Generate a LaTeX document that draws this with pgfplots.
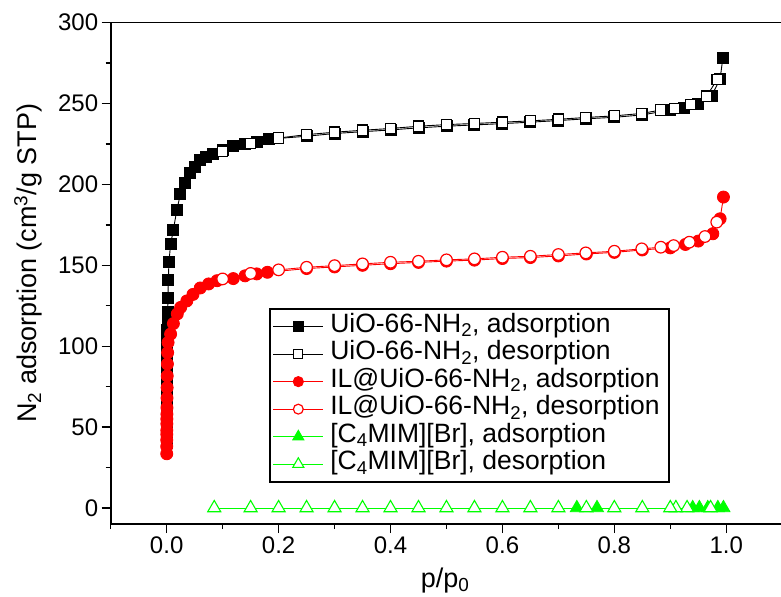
\documentclass[border=0pt]{standalone}
\usepackage{pgfplots}
\pgfplotsset{compat=1.18}
\usepackage{fontspec}
\setmainfont{Liberation Sans}
\begin{document}
\begin{tikzpicture}
\begin{axis}[name=ax, scale only axis, width=671.3pt, height=501.3pt,
  xmin=-0.1, xmax=1.1, ymin=-10, ymax=300,
  xtick={0,0.2,0.4,0.6,0.8,1.0}, minor xtick={-0.1,0.1,0.3,0.5,0.7,0.9},
  ytick={0,50,100,150,200,250,300}, minor ytick={25,75,125,175,225,275},
  tick align=outside, xtick pos=bottom, ytick pos=left,
  major tick length=9pt, minor tick length=5pt,
  axis line style={line width=1.6pt},
  every tick/.style={line width=1.4pt, black},
  /pgf/number format/assume math mode=true,
  tick label style={font=\fontsize{24}{28}\selectfont},
  xticklabel style={/pgf/number format/.cd, fixed, fixed zerofill, precision=1},
  yticklabel style={/pgf/number format/.cd, fixed, precision=0},
  xlabel={p/p\textsubscript{0}},
  ylabel={N\textsubscript{2} adsorption (cm\textsuperscript{3}/g STP)},
  every axis x label/.style={at={(axis description cs:0.498,0)}, anchor=center, yshift=-56pt, font=\fontsize{27}{30}\selectfont},
  every axis y label/.style={at={(axis description cs:-0.1230,0.52)}, rotate=90, anchor=center, font=\fontsize{27}{30}\selectfont},
  legend style={at={(0.2358,0.4309)}, anchor=north west, draw=black, line width=1.6pt,
    font=\fontsize{26.5}{30}\selectfont, inner xsep=3pt, inner ysep=4pt,
    nodes={inner xsep=6.5pt, inner ysep=2.5pt, text height=17pt, text depth=5.5pt}},
  legend cell align=left,
  legend image code/.code={\draw[mark repeat=2,mark phase=2] plot coordinates {(0pt,0pt) (25pt,0pt) (50pt,0pt)};},
  legend image post style={/tikz/every mark/.append style={scale=0.85}},
  clip=false,
]
% UiO-66-NH2 adsorption
\addplot[color=black, line width=0.9pt, mark=square*, mark size=5.5pt, mark options={solid}] coordinates {
(0.0001,40) (0.0001,45) (0.0002,50) (0.0002,55) (0.0003,60) (0.0003,66) (0.0004,72) (0.0005,78) (0.0006,85) (0.0007,92) (0.0008,99) (0.001,105) (0.0012,110) (0.0015,116) (0.0018,121) (0.0022,130) (0.003,141) (0.004,152) (0.007,163) (0.012,172) (0.018,184) (0.0245,194) (0.033,201) (0.042,207) (0.05,211) (0.06,215) (0.07,217) (0.083,219) (0.1,221.5) (0.119,223.5) (0.14,225) (0.161,226) (0.182,228) (0.25,229.8) (0.3,231.5) (0.35,232.6) (0.4,233.7) (0.45,235) (0.5,236) (0.55,236.8) (0.6,237.6) (0.65,238.5) (0.7,239.5) (0.75,240.6) (0.8,241.5) (0.85,243) (0.9,246) (0.924,247.6) (0.95,249.7) (0.974,255) (0.989,265.2) (0.994,278.4)
};
\addlegendentry{UiO-66-NH\textsubscript{2}, adsorption}
% UiO-66-NH2 desorption
\addplot[color=black, line width=0.9pt, mark=square*, mark size=5.2pt, mark options={solid, fill=white, line width=1.2pt}] coordinates {
(0.984,265) (0.965,254.6) (0.936,249.5) (0.908,247) (0.883,246) (0.849,243.9) (0.8,242.4) (0.749,241.4) (0.7,240.3) (0.65,239.3) (0.6,238.5) (0.55,237.7) (0.5,237) (0.45,236) (0.4,234.6) (0.35,233.5) (0.3,232.3) (0.25,230.8) (0.2,228.7) (0.15,225.3) (0.1,220.5)
};
\addlegendentry{UiO-66-NH\textsubscript{2}, desorption}
% IL@UiO-66-NH2 adsorption
\addplot[color=red, line width=0.9pt, mark=*, mark size=6pt, mark options={solid}] coordinates {
(0.0001,33.5) (0.0001,38) (0.0001,42) (0.0002,45.5) (0.0002,48) (0.0003,52) (0.0003,55) (0.0004,58) (0.0005,62) (0.0006,68) (0.0008,74.4) (0.001,81.6) (0.0013,89) (0.0017,96) (0.0025,102.3) (0.007,107.5) (0.012,114) (0.019,120) (0.025,124) (0.036,128) (0.047,132) (0.06,136) (0.075,138.5) (0.09,140.5) (0.119,141.8) (0.14,143.5) (0.161,144.7) (0.18,145.7) (0.25,148) (0.3,149) (0.35,150) (0.4,151) (0.45,151.8) (0.5,152.6) (0.55,153.2) (0.6,154.2) (0.65,154.8) (0.7,155.8) (0.75,157) (0.8,158) (0.85,159.5) (0.9,160.8) (0.927,162.9) (0.95,165) (0.976,169.5) (0.989,178.8) (0.995,192.2)
};
\addlegendentry{IL@UiO-66-NH\textsubscript{2}, adsorption}
% IL@UiO-66-NH2 desorption
\addplot[color=red, line width=0.9pt, mark=*, mark size=5.8pt, mark options={solid, fill=white, line width=1.2pt}] coordinates {
(0.983,176.7) (0.962,167.8) (0.934,164.3) (0.906,162.2) (0.883,161.2) (0.849,160.2) (0.8,158.7) (0.749,157.7) (0.7,156.7) (0.65,155.6) (0.6,155) (0.55,154) (0.5,153.4) (0.45,152.5) (0.4,151.9) (0.35,150.9) (0.3,149.8) (0.25,148.8) (0.2,147.2) (0.15,145) (0.1,141.6)
};
\addlegendentry{IL@UiO-66-NH\textsubscript{2}, desorption}
% [C4MIM][Br] adsorption
\addplot[color=green, line width=0.9pt, mark=triangle*, mark size=7.5pt, mark options={solid}] coordinates {
(0.733,0) (0.769,0) (0.94,0) (0.952,0) (0.967,0) (0.985,0) (0.995,0)
};
\addlegendentry{[C\textsubscript{4}MIM][Br], adsorption}
% [C4MIM][Br] desorption
\addplot[color=green, line width=0.9pt, mark=triangle*, mark size=7.5pt, mark options={solid, fill=white, line width=1.1pt}] coordinates {
(0.972,0) (0.93,0) (0.91,0) (0.9,0) (0.85,0) (0.8,0) (0.75,0) (0.7,0) (0.65,0) (0.6,0) (0.55,0) (0.5,0) (0.45,0) (0.4,0) (0.35,0) (0.3,0) (0.25,0) (0.2,0) (0.15,0) (0.085,0)
};
\addlegendentry{[C\textsubscript{4}MIM][Br], desorption}
\end{axis}
\pgfresetboundingbox
\path[use as bounding box] ([shift={(-110.7pt,-72pt)}]ax.south west) rectangle ([shift={(-1.2pt,22.7pt)}]ax.north east);
\end{tikzpicture}
\end{document}
